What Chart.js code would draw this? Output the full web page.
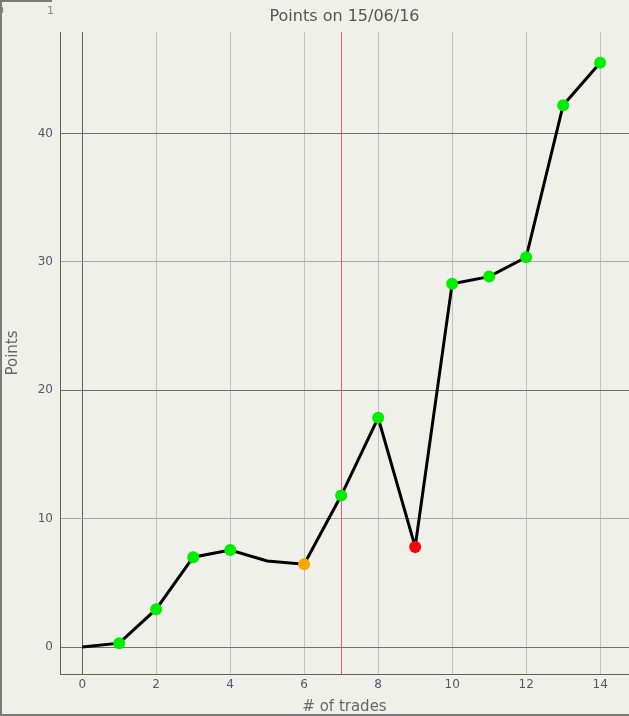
<!DOCTYPE html>
<html>
<head>
<meta charset="utf-8">
<script src="https://cdn.jsdelivr.net/npm/chart.js@4/dist/chart.umd.min.js"></script>
<style>
  html, body { margin: 0; padding: 0; background: #f0f0eb; }
  #wrap { position: relative; width: 629px; height: 716px; }
</style>
</head>
<body>
<div id="wrap"><canvas id="chart"></canvas></div>
<script>
  const trades = [0, 1, 2, 3, 4, 5, 6, 7, 8, 9, 10, 11, 12, 13, 14];
  const points = [0, 0.3, 2.95, 7.0, 7.55, 6.7, 6.45, 11.8, 17.85, 7.8, 28.3, 28.85, 30.35, 42.2, 45.5];
  const markerColors = ["#00ee00", "#00ee00", "#00ee00", "#00ee00", "#00ee00", "#00ee00", "#ffa500",
    "#00ee00", "#00ee00", "#ff0000", "#00ee00", "#00ee00", "#00ee00", "#00ee00", "#00ee00"];
  const markerSizes = [0, 6, 6, 6, 6, 0, 6, 6, 6, 6, 6, 6, 6, 6, 6];
  const xTicks = [0, 2, 4, 6, 8, 10, 12, 14];
  const yTicks = [0, 10, 20, 30, 40];
  const markerTrade = 7;
  const sliderLabels = ["0", "1"];

  const frame = {
    id: "frame",
    beforeDraw: function (chart) {
      const ctx = chart.ctx;
      ctx.save();
      ctx.strokeStyle = "#7a7a7a";
      ctx.lineWidth = 2;
      ctx.beginPath();
      ctx.moveTo(1, 0);
      ctx.lineTo(1, chart.height - 1);
      ctx.lineTo(chart.width, chart.height - 1);
      ctx.stroke();
      ctx.beginPath();
      ctx.moveTo(0, 1);
      ctx.lineTo(52, 1);
      ctx.stroke();
      ctx.fillStyle = "#888";
      ctx.font = "11px 'DejaVu Sans'";
      ctx.textBaseline = "middle";
      ctx.fillText(sliderLabels[0], -3, 11);
      ctx.fillText(sliderLabels[1], 47, 11);
      ctx.restore();
    },
    beforeDatasetsDraw: function (chart) {
      const x = chart.scales.x.getPixelForValue(markerTrade);
      const area = chart.chartArea;
      const ctx = chart.ctx;
      ctx.save();
      ctx.strokeStyle = "#e0606e";
      ctx.lineWidth = 1;
      ctx.beginPath();
      ctx.moveTo(Math.round(x) + 0.5, area.top);
      ctx.lineTo(Math.round(x) + 0.5, area.bottom);
      ctx.stroke();
      ctx.restore();
    }
  };

  function setTicks(values) {
    return function (scale) {
      scale.ticks = values.map(function (v) { return { value: v }; });
    };
  }

  new Chart(document.getElementById("chart"), {
    type: "line",
    data: {
      datasets: [{
        data: trades.map(function (t, i) { return { x: t, y: points[i] }; }),
        borderColor: "#000",
        borderWidth: 3,
        tension: 0,
        pointRadius: markerSizes,
        pointBackgroundColor: markerColors,
        pointBorderColor: markerColors,
        pointBorderWidth: 0,
        fill: false
      }]
    },
    options: {
      responsive: true,
      maintainAspectRatio: false,
      animation: false,
      layout: { padding: 0, autoPadding: false },
      plugins: {
        legend: { display: false },
        tooltip: { enabled: false },
        title: {
          display: true,
          text: "Points on 15/06/16",
          fullSize: false,
          color: "#555",
          font: { family: "'DejaVu Sans'", size: 16, weight: "normal" },
          padding: { top: 7, bottom: 5.8 }
        }
      },
      scales: {
        x: {
          type: "linear",
          min: -0.6,
          max: 14.78,
          afterBuildTicks: setTicks(xTicks),
          afterFit: function (s) { s.height = 42; s.paddingLeft = 0; s.paddingRight = 0; },
          border: { color: "#606060", width: 1 },
          grid: {
            drawTicks: false,
            color: function (c) { return c.tick && c.tick.value === 0 ? "#606060" : "#c0c0c0"; }
          },
          ticks: {
            padding: 4,
            color: "#556",
            font: { family: "'DejaVu Sans'", size: 12 }
          },
          title: {
            display: true,
            text: "# of trades",
            color: "#666",
            padding: 0,
            font: { family: "'DejaVu Sans'", size: 15 }
          }
        },
        y: {
          min: -2.1,
          max: 47.9,
          afterBuildTicks: setTicks(yTicks),
          afterFit: function (s) { s.width = 60; s.paddingTop = 0; s.paddingBottom = 0; },
          border: { color: "#606060", width: 1 },
          grid: {
            drawTicks: false,
            color: function (c) { return c.tick && c.tick.value % 20 === 0 ? "#707070" : "#a8a8a8"; }
          },
          ticks: {
            padding: 7,
            color: "#556",
            font: { family: "'DejaVu Sans'", size: 12 }
          },
          title: {
            display: true,
            text: "Points",
            color: "#666",
            padding: { top: 4, bottom: 0 },
            font: { family: "'DejaVu Sans'", size: 15 }
          }
        }
      }
    },
    plugins: [frame]
  });
</script>
</body>
</html>
